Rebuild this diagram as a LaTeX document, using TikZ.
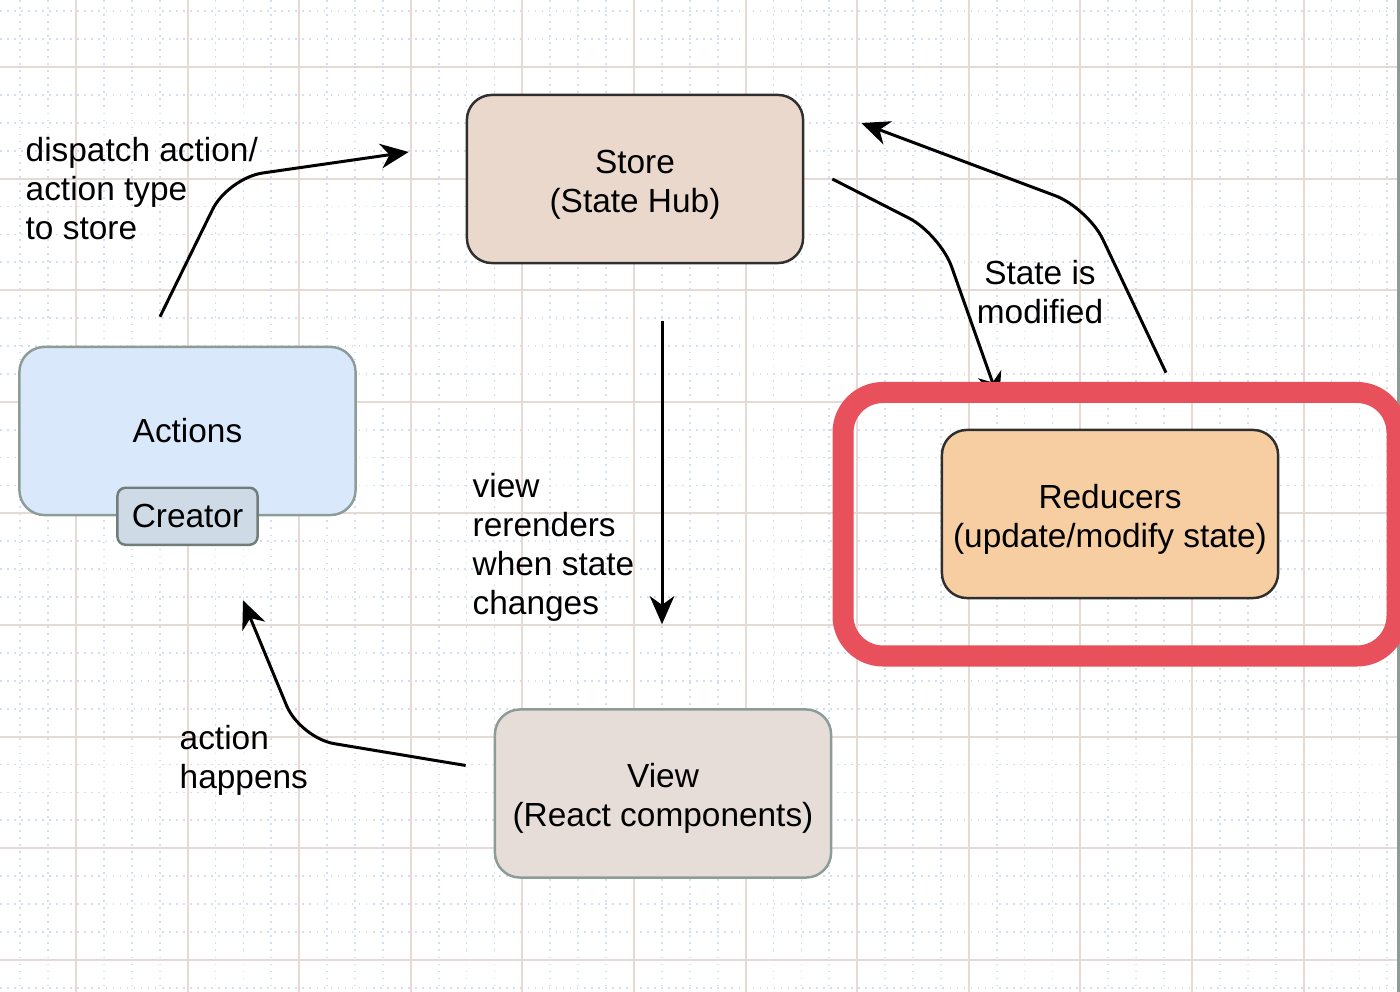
\documentclass[tikz,border=0pt]{standalone}
\usepackage{fontspec}
\setmainfont{Liberation Sans}
\usetikzlibrary{shapes,arrows,arrows.meta,positioning,calc}

\definecolor{storefill}{HTML}{E9D8CB}
\definecolor{actionfill}{HTML}{DAE8FC}
\definecolor{creatorfill}{HTML}{CFDAE7}
\definecolor{reducerfill}{HTML}{F6CEA1}
\definecolor{viewfill}{HTML}{E6DCD8}
\definecolor{softedge}{HTML}{8C9C97}
\definecolor{darkedge}{HTML}{2F2F2F}
\definecolor{ringred}{HTML}{E8505B}
\definecolor{gridmajor}{HTML}{E6DAD6}
\definecolor{gridminor}{HTML}{D3DEEF}

% pad above the first line of a two-line box
\newcommand{\toppad}{\rule{0pt}{0.34cm}}

\begin{document}
\begin{tikzpicture}[
  x=0.01cm, y=-0.01cm,
  font=\fontsize{9.5}{11.1}\selectfont,
  box/.style={
    draw=darkedge, rectangle, minimum width=3.36cm, minimum height=1.68cm,
    align=center, rounded corners=0.25cm, line width=0.7pt, inner sep=0pt
  },
  lbl/.style={align=left, inner sep=0pt},
  arrow/.style={->, >={Stealth[length=8pt,width=7pt,inset=2.5pt]},
    line width=0.85pt, rounded corners=0.35cm},
  minorline/.style={draw=gridminor, line width=0.5pt, dash pattern=on 0.5pt off 1.5pt},
  majorline/.style={draw=gridmajor, line width=0.6pt},
  ring/.style={draw=ringred, line width=0.21cm, rounded corners=0.4cm}
]
\useasboundingbox (0,0) rectangle (1400,992);

% Background grid
\foreach \i in {0,...,49}
  \draw[minorline] ({20.2+27.9*\i},0) -- ++(0,992);
\foreach \j in {0,...,35}
  \draw[minorline] (0,{11.2+27.9*\j}) -- ++(1400,0);
\foreach \i in {0,...,11}
  \draw[majorline] ({76+111.6*\i},0) -- ++(0,992);
\foreach \j in {0,...,8}
  \draw[majorline] (0,{67+111.6*\j}) -- ++(1400,0);
\draw[draw=softedge, line width=0.03cm] (1398.5,0) -- (1398.5,992);

% Store
\node[box, fill=storefill] (store) at (635,179)
  {\toppad Store\\(State Hub)};

% Actions with its creator tab
\node[box, draw=softedge, fill=actionfill] (actions) at (187.5,431)
  {Actions};
\node[box, draw=softedge!80!black, fill=creatorfill, minimum width=1.4cm,
  minimum height=0.57cm, rounded corners=0.08cm] (creator) at (actions.south)
  {Creator};

% Reducers
\node[box, fill=reducerfill] (reducers) at (1110,514)
  {\toppad Reducers\\(update/modify state)};

% View
\node[box, draw=softedge, fill=viewfill] (view) at (663,793.5)
  {\toppad View\\(React components)};

% Flow arrows
\draw[arrow] ($(actions.north)+(-27.5,-29)$) -- (228,178) -- ($(store.west)+(-57,-27)$);
\draw[arrow] ($(store.east)+(28,0)$) -- (940,234) -- ($(reducers.north)+(-111,-28)$);
\draw[arrow] ($(reducers.north)+(56,-56)$) -- (1088,208) -- ($(store.east)+(57,-56)$);
\draw[arrow] ($(store.south)+(27,57)$) -- ($(view.north)+(-1,-84)$);
\draw[arrow] ($(view.west)+(-28,-28)$) -- (300,738) -- ($(actions.south)+(55.5,84)$);

% Labels
\node[lbl, anchor=west] (dispatchlbl) at (25,188.5)
  {dispatch action/\\action type\\to store};
\node[lbl, align=center] (modifiedlbl) at (1040,292)
  {State is\\modified};
\node[lbl, anchor=west] (renderlbl) at (472,547.5)
  {view\\rerenders\\when state\\changes};
\node[lbl, anchor=west] (happenslbl) at (179,760.5)
  {action\\happens};

% Highlight round the reducers
\draw[ring] (843,392.5) rectangle (1397,656);

\end{tikzpicture}
\end{document}
